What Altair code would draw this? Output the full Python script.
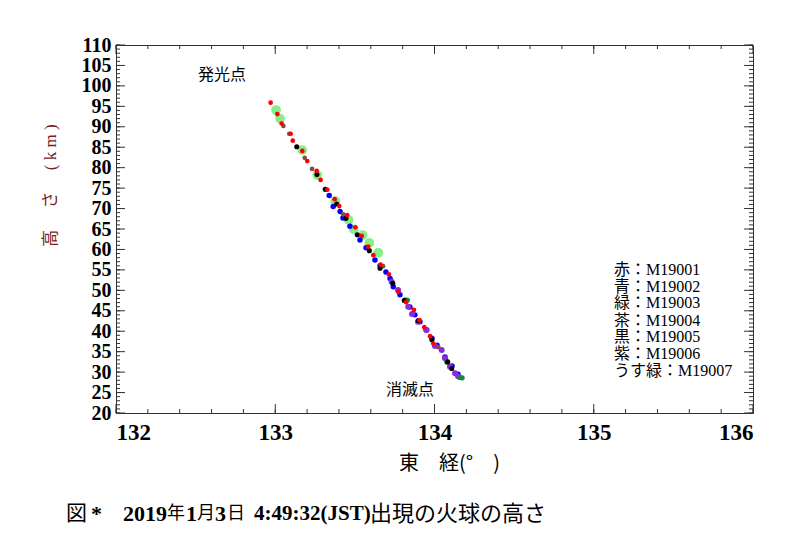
import altair as alt
import pandas as pd

# ---- data ----
red_lon = [132.971, 133.013, 133.040, 133.097, 133.110, 133.170, 133.201, 133.260, 133.285, 133.327,
           133.373, 133.402, 133.452, 133.503, 133.543, 133.584, 133.616, 133.662, 133.714, 133.773,
           133.821, 133.871, 133.905, 133.936, 133.972, 133.992]
red_h = [95.9, 93.1, 90.8, 88.3, 86.6, 84.1, 81.6, 79.2, 77.0, 74.6,
         72.3, 70.6, 68.4, 65.4, 63.3, 60.7, 58.6, 56.3, 53.9, 49.6,
         47.1, 45.2, 42.7, 41.0, 38.8, 37.0]

blue_lon = [133.339, 133.364, 133.407, 133.425, 133.469, 133.532, 133.570, 133.626, 133.658, 133.695,
            133.721, 133.741, 133.783, 133.815, 133.846, 133.877, 133.909, 133.947, 133.984, 134.016,
            134.066, 134.110, 134.148]
blue_h = [73.2, 70.5, 69.3, 67.7, 65.7, 62.3, 60.4, 57.4, 56.0, 54.5,
          52.9, 50.9, 48.9, 47.6, 45.9, 44.0, 42.3, 40.3, 38.3, 36.6,
          33.7, 31.5, 29.5]

green_lon = [133.829, 134.077, 134.160, 134.173]
green_h = [47.6, 32.5, 28.7, 28.6]

brown_lon = [133.051, 133.088, 133.185, 133.231, 133.427, 133.677, 134.024]
brown_h = [90.2, 88.3, 82.4, 79.7, 68.6, 55.9, 36.1]

black_lon = [133.135, 133.262, 133.314, 133.386, 133.444, 133.515, 133.591, 133.658, 133.738, 133.810,
             133.898, 133.984, 134.083, 134.108]
black_h = [85.1, 78.3, 74.7, 71.1, 67.6, 63.6, 59.7, 55.4, 51.7, 47.5,
           42.6, 37.9, 32.5, 30.9]

purple_lon = [133.731, 133.771, 133.835, 133.859, 133.896, 133.951, 134.003, 134.045, 134.066, 134.097,
              134.129, 134.148]
purple_h = [52.1, 50.1, 46.0, 44.2, 42.3, 40.3, 36.4, 35.4, 33.4, 31.3,
            29.7, 29.0]

lgreen_lon = [133.005, 133.030, 133.170, 133.264, 133.377, 133.461, 133.494, 133.549, 133.591, 133.647]
lgreen_h = [94.1, 92.0, 84.3, 78.2, 71.8, 67.2, 64.9, 63.5, 61.6, 59.2]

legend_lines = ["赤：M19001", "青：M19002", "緑：M19003", "茶：M19004", "黒：M19005", "紫：M19006", "うす緑：M19007"]
legend_h = [55.0, 50.9, 46.8, 42.6, 38.5, 34.4, 30.3]
legend_lon = 135.127

# caption pieces: (text, bold, font size)
caption_parts = [("図", False, 21), ("*", True, 22), ("2019", True, 22), ("年", False, 18), ("1", True, 22),
                 ("月", False, 18), ("3", True, 22), ("日", False, 18), ("4:49:32(JST)", True, 21),
                 ("出現の火球の高さ", False, 22)]
caption_x = [66, 91, 123, 167, 186, 197, 215, 227, 254, 370]   # left edges in page pixels

x_major = [132, 133, 134, 135, 136]
x_minor = [round(132 + 0.2 * i, 1) for i in range(21)]
y_major = list(range(20, 111, 5))
y_minor = list(range(20, 111, 1))

W, H = 637, 368
LEFT, TOP = 108, 37
XS = alt.Scale(domain=[132, 136], nice=False, zero=False)
YS = alt.Scale(domain=[20, 110], nice=False, zero=False)
SERIF = "Liberation Serif, Noto Sans CJK JP"
CJK = "Noto Sans CJK JP"

AX = alt.Axis(values=x_major, format="d", ticks=False, domain=False, grid=False,
              labelFont="Liberation Serif", labelFontWeight="bold", labelFontSize=23, labelColor="black",
              labelPadding=8, labelOverlap=False,
              title="東　経(°　)", titleFont=CJK, titleFontWeight="normal",
              titleFontSize=20, titleColor="black", titlePadding=9, titleX=333, titleAlign="center")
AY = alt.Axis(values=y_major, format="d", ticks=False, domain=False, grid=False,
              labelFont="Liberation Serif", labelFontWeight="bold", labelFontSize=20, labelColor="black",
              labelPadding=5, labelBaseline="middle", labelOverlap=False,
              title="高　 さ　 (  k  m  )", titleFont=SERIF,
              titleFontWeight="normal", titleFontSize=17, titleColor="#7a1c1c",
              titleX=-66, titleY=140, titleAngle=270, titleAlign="center", titleBaseline="middle")

def X():
    return alt.X("lon:Q", scale=XS, axis=AX)

def Y():
    return alt.Y("h:Q", scale=YS, axis=AY)

series = [
    ("lgreen", lgreen_lon, lgreen_h, "#88ee88", 95),
    ("blue", blue_lon, blue_h, "#0000ff", 30),
    ("purple", purple_lon, purple_h, "#8a2be2", 36),
    ("green", green_lon, green_h, "#138a3c", 28),
    ("brown", brown_lon, brown_h, "#8b4a4a", 22),
    ("black", black_lon, black_h, "#000000", 26),
    ("red", red_lon, red_h, "#ff0000", 22),
]

layers = []

# inward ticks
def xticks(vals, y0, y1):
    return alt.Chart(pd.DataFrame({"lon": vals})).mark_rule(color="#333", strokeWidth=1).encode(
        x=X(), y=alt.value(y0), y2=alt.value(y1))

def yticks(vals, x0, x1):
    return alt.Chart(pd.DataFrame({"h": vals})).mark_rule(color="#333", strokeWidth=1).encode(
        y=Y(), x=alt.value(x0), x2=alt.value(x1))

layers += [
    xticks(x_minor, H, H - 4), xticks(x_major, H, H - 9),
    xticks(x_minor, 0, 4), xticks(x_major, 0, 9),
    yticks(y_minor, 0, 4), yticks(y_major, 0, 9),
    yticks(y_minor, W, W - 4), yticks(y_major, W, W - 9),
]

for name, lons, hs, col, size in series:
    df = pd.DataFrame({"lon": lons, "h": hs})
    layers.append(alt.Chart(df).mark_circle(color=col, size=size, opacity=1).encode(x=X(), y=Y()))

# annotations
ann = pd.DataFrame({"lon": [132.666, 133.846], "h": [102.7, 25.6], "t": ["発光点", "消滅点"]})
layers.append(alt.Chart(ann).mark_text(font=SERIF, fontSize=16, color="black", align="center",
                                       baseline="middle").encode(x=X(), y=Y(), text="t:N"))

leg = pd.DataFrame({"lon": [legend_lon] * len(legend_lines), "h": legend_h, "t": legend_lines})
layers.append(alt.Chart(leg).mark_text(font=SERIF, fontSize=16, color="black", align="left",
                                       baseline="middle").encode(x=X(), y=Y(), text="t:N"))

for (txt, bold, fs), px in zip(caption_parts, caption_x):
    cap = pd.DataFrame({"t": [txt]})
    layers.append(alt.Chart(cap).mark_text(
        font=SERIF, fontSize=fs, fontWeight="bold" if bold else "normal",
        color="black", align="left", baseline="middle").encode(
        x=alt.value(px - 8 - LEFT), y=alt.value(514 - 8 - TOP), text="t:N"))

chart = alt.layer(*layers).properties(
    width=W, height=H,
    autosize=alt.AutoSizeParams(type="none"),
    padding={"left": LEFT, "top": TOP, "right": 31, "bottom": 120},
    background="white",
).configure_view(stroke="#333", strokeWidth=1)

chart.save("out.html", embed_options={"renderer": "svg", "actions": False})
